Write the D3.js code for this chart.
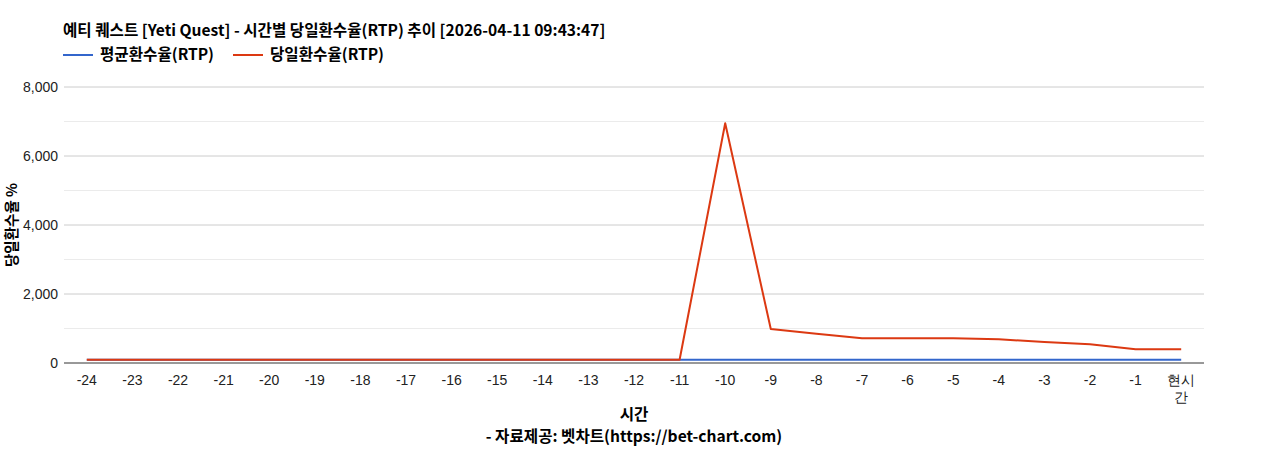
<!DOCTYPE html>
<html>
<head>
<meta charset="utf-8">
<script src="https://cdn.jsdelivr.net/npm/d3@7"></script>
<style>
  body { margin: 0; background: #fff; }
  svg { display: block; }
</style>
</head>
<body>
<svg id="chart" width="1268" height="450"></svg>
<script>
// chart data
const hours = ["-24","-23","-22","-21","-20","-19","-18","-17","-16","-15","-14","-13","-12","-11","-10","-9","-8","-7","-6","-5","-4","-3","-2","-1","현시간"];
const avgRtp = [96,96,96,96,96,96,96,96,96,96,96,96,96,96,96,96,96,96,96,96,96,96,96,96,96];
const dailyRtp = [95,95,95,95,95,95,95,95,95,95,95,95,95,95,6950,985,850,716,716,716,687,609,541,397,397];
const yTicks = [0,2000,4000,6000,8000];
const seriesNames = ["평균환수율(RTP)", "당일환수율(RTP)"];
const seriesColors = ["#3366cc", "#dc3912"];

const W = 1268, H = 450;
const m = { left: 64, right: 64, top: 87, bottom: 87 };
const svg = d3.select("#chart");
const labelFont = "'Liberation Sans', Arial, sans-serif";
const boldFont = "'Noto Sans CJK KR', 'Noto Sans', sans-serif";
const boldSize = "15.6px";

const x = d3.scalePoint().domain(hours).range([m.left, W - m.right]).padding(0.5);
const y = d3.scaleLinear().domain([0, 8000]).range([H - m.bottom, m.top]);

//Gridlines (minor + major)
const minor = d3.range(1000, 8000, 2000);
svg.append("g").selectAll("line").data(minor).enter().append("line")
  .attr("x1", m.left).attr("x2", W - m.right)
  .attr("y1", d => y(d)).attr("y2", d => y(d))
  .attr("stroke", "#ebebeb").attr("stroke-width", 1);

svg.append("g").selectAll("line").data(yTicks.filter(d => d > 0)).enter().append("line")
  .attr("x1", m.left).attr("x2", W - m.right)
  .attr("y1", d => y(d)).attr("y2", d => y(d))
  .attr("stroke", "#cccccc").attr("stroke-width", 1);

//Y tick labels
svg.append("g").selectAll("text").data(yTicks).enter().append("text")
  .attr("x", m.left - 6).attr("y", d => y(d) + 5)
  .attr("text-anchor", "end")
  .attr("font-family", labelFont).attr("font-size", "14px").attr("fill", "#222")
  .text(d => d3.format(",")(d));

//X tick labels
const xl = svg.append("g").selectAll("text").data(hours).enter().append("text")
  .attr("x", d => x(d)).attr("y", H - m.bottom + 22)
  .attr("text-anchor", "middle")
  .attr("font-family", labelFont).attr("font-size", "14px").attr("fill", "#222");
xl.each(function(d) {
  const t = d3.select(this);
  if (d === "현시간") {
    t.append("tspan").attr("x", x(d)).text("현시");
    t.append("tspan").attr("x", x(d)).attr("dy", 17).text("간");
  } else {
    t.text(d);
  }
});

//Lines
const line = d3.line().x((d, i) => x(hours[i])).y(d => y(d));
[avgRtp, dailyRtp].forEach((vals, i) => {
  svg.append("path").datum(vals)
    .attr("d", line)
    .attr("fill", "none")
    .attr("stroke", seriesColors[i])
    .attr("stroke-width", 2)
    .attr("stroke-linejoin", "round");
});

//Baseline
svg.append("line")
  .attr("x1", m.left).attr("x2", W - m.right)
  .attr("y1", y(0)).attr("y2", y(0))
  .attr("stroke", "#333").attr("stroke-width", 1);

//Title
svg.append("text")
  .attr("x", 63).attr("y", 36)
  .attr("font-family", boldFont).attr("font-size", boldSize).attr("font-weight", "bold").attr("fill", "#000")
  .text("예티 퀘스트 [Yeti Quest] - 시간별 당일환수율(RTP) 추이 [2026-04-11 09:43:47]");

//Legend
const legendX = [63, 233];
seriesNames.forEach((name, i) => {
  svg.append("line")
    .attr("x1", legendX[i]).attr("x2", legendX[i] + 30)
    .attr("y1", 55).attr("y2", 55)
    .attr("stroke", seriesColors[i]).attr("stroke-width", 2);
  svg.append("text")
    .attr("x", legendX[i] + 37).attr("y", 60)
    .attr("font-family", boldFont).attr("font-size", boldSize).attr("font-weight", "bold").attr("fill", "#000")
    .text(name);
});

//Axis titles
svg.append("text")
  .attr("transform", `translate(17, ${(m.top + H - m.bottom) / 2}) rotate(-90)`)
  .attr("text-anchor", "middle")
  .attr("font-family", boldFont).attr("font-size", "14.5px").attr("font-weight", "bold").attr("fill", "#000")
  .text("당일환수율 %");

svg.append("text")
  .attr("x", 634).attr("y", 420)
  .attr("text-anchor", "middle")
  .attr("font-family", boldFont).attr("font-size", boldSize).attr("font-weight", "bold").attr("fill", "#000")
  .text("시간");

svg.append("text")
  .attr("x", 634).attr("y", 442)
  .attr("text-anchor", "middle")
  .attr("font-family", boldFont).attr("font-size", boldSize).attr("font-weight", "bold").attr("fill", "#000")
  .text("- 자료제공: 벳차트(https://bet-chart.com)");
</script>
</body>
</html>
